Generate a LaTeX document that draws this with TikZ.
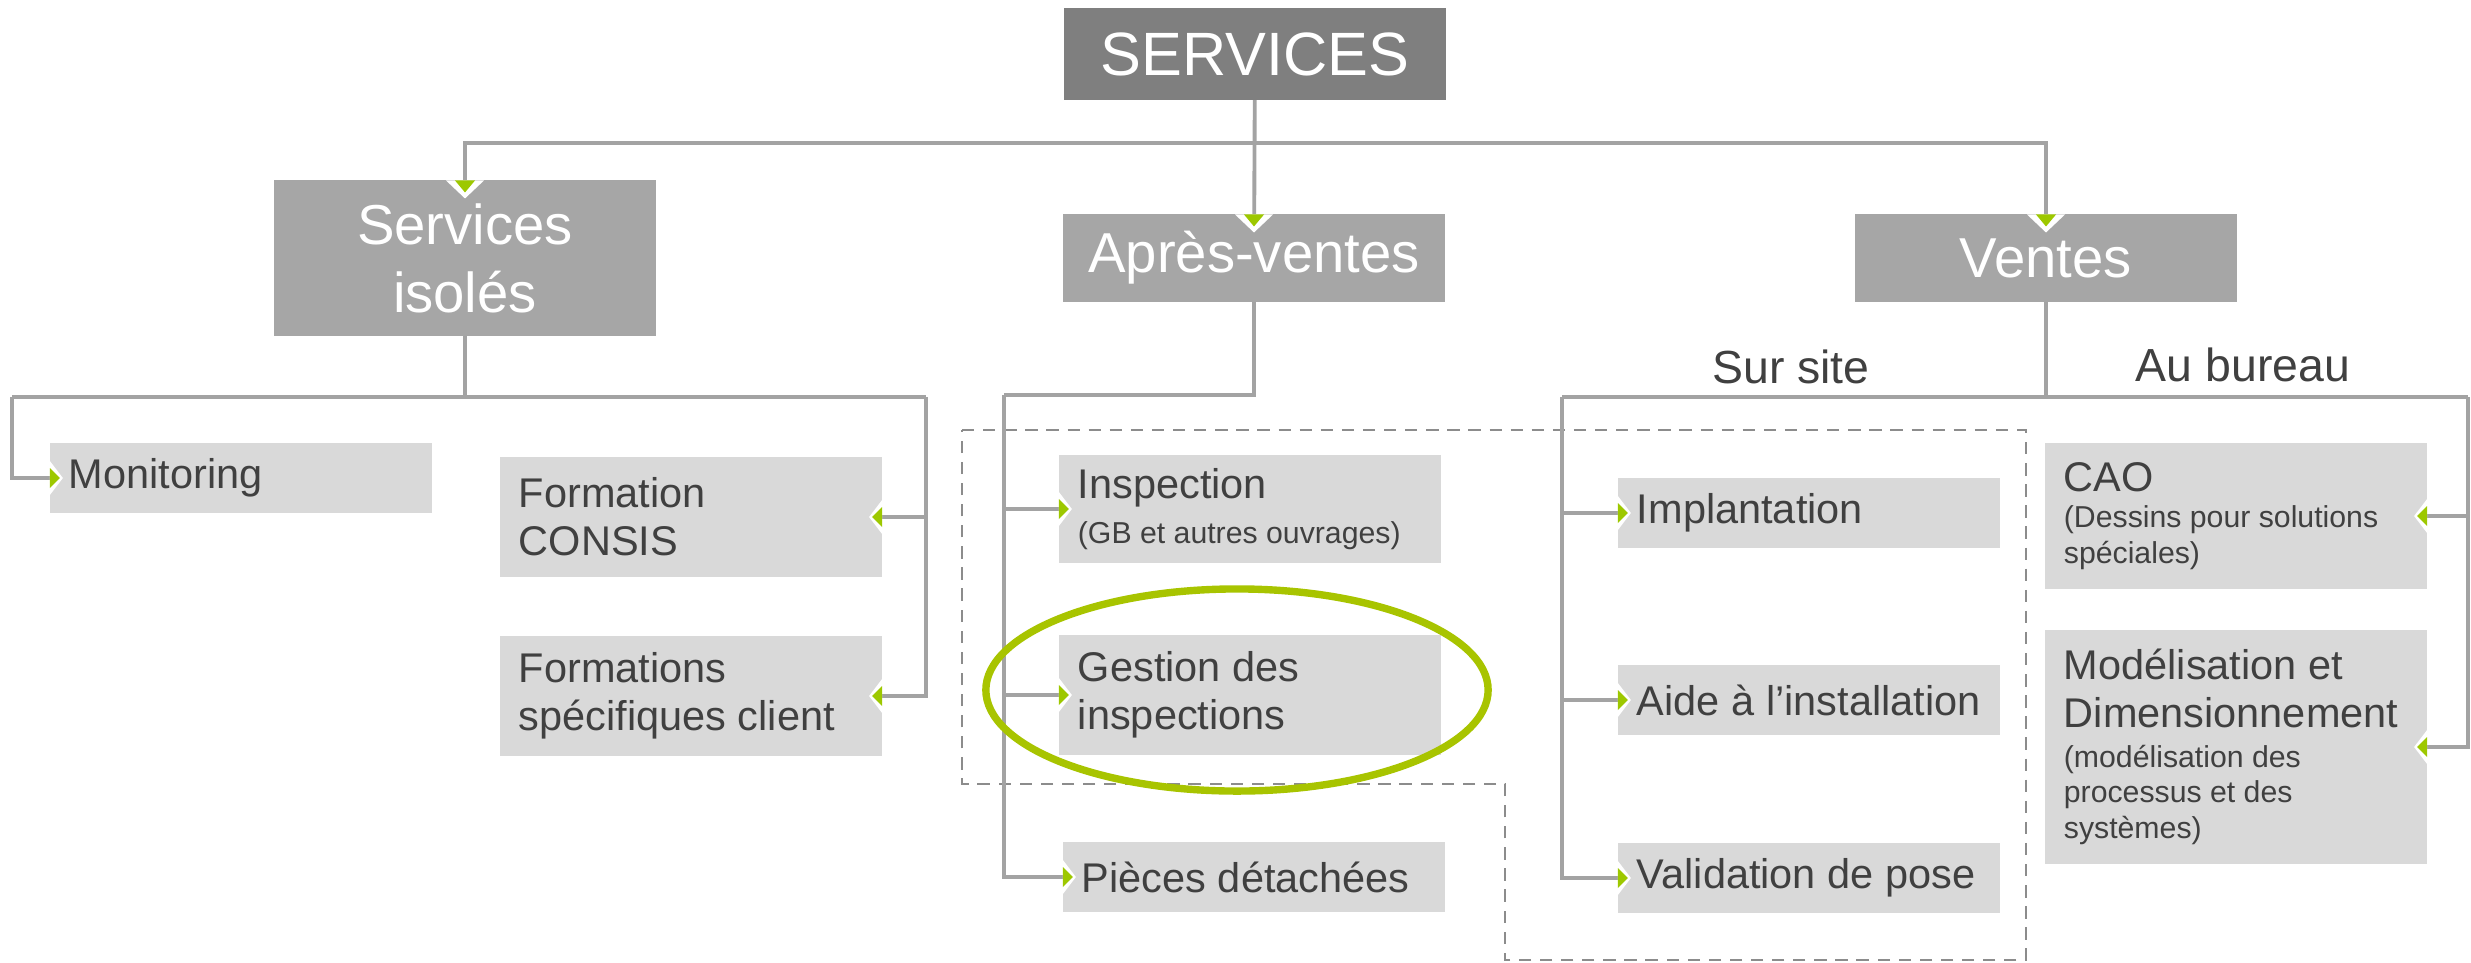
\documentclass[tikz,border=0pt]{standalone}
\usepackage{fontspec}
\setmainfont{Liberation Sans}
\usepackage{tikz}
\usepackage{xcolor}
\usetikzlibrary{positioning, calc}
\definecolor{TopGray}{HTML}{7F7F7F}
\definecolor{MidGray}{HTML}{A6A6A6}
\definecolor{LeafGray}{HTML}{D9D9D9}
\definecolor{LineGray}{HTML}{A3A3A3}
\definecolor{TextGray}{HTML}{404040}
\definecolor{DashGray}{HTML}{8C8C8C}
\definecolor{Lime}{HTML}{9DC800}
\definecolor{RingLime}{HTML}{A8C400}
\newcommand{\topfont}{\fontsize{17.4}{20}\selectfont}
\newcommand{\groupfont}{\fontsize{16}{19.4}\selectfont}
\newcommand{\leaffont}{\fontsize{11.8}{13.7}\selectfont}
\newcommand{\subfont}{\fontsize{8.6}{10.2}\selectfont}
\newcommand{\tipright}[1]{%
  \fill[white] ([yshift=0.17cm]#1.west) -- ([xshift=0.13cm]#1.west) -- ([yshift=-0.17cm]#1.west) -- cycle;
  \fill[Lime] ([yshift=0.10cm]#1.west) -- ([xshift=0.10cm]#1.west) -- ([yshift=-0.10cm]#1.west) -- cycle;}
\newcommand{\tipleft}[1]{%
  \fill[white] ([yshift=0.17cm]#1.east) -- ([xshift=-0.13cm]#1.east) -- ([yshift=-0.17cm]#1.east) -- cycle;
  \fill[Lime] ([yshift=0.10cm]#1.east) -- ([xshift=-0.10cm]#1.east) -- ([yshift=-0.10cm]#1.east) -- cycle;}
\newcommand{\tipdown}[1]{%
  \fill[white] ([xshift=-0.19cm]#1.north) -- ([yshift=-0.18cm]#1.north) -- ([xshift=0.19cm]#1.north) -- cycle;
  \fill[Lime] ([xshift=-0.10cm]#1.north) -- ([yshift=-0.12cm]#1.north) -- ([xshift=0.10cm]#1.north) -- cycle;}
\hfuzz=20pt

\begin{document}
\begin{tikzpicture}[x=0.01cm, y=-0.01cm,
    topbox/.style={fill=TopGray, text=white, font=\topfont, minimum width=3.82cm,
                   minimum height=0.92cm, inner sep=0pt, outer sep=0pt},
    groupbox/.style={fill=MidGray, text=white, font=\groupfont, align=center,
                     minimum width=3.82cm, minimum height=#1, inner sep=0pt, outer sep=0pt},
    leaf/.style={fill=LeafGray, text=TextGray, font=\leaffont, align=flush left,
                 text width=3.44cm, inner xsep=0.19cm, inner ysep=0pt,
                 minimum height=#1, outer sep=0pt},
    head/.style={text=TextGray, font=\fontsize{13.2}{15}\selectfont, inner sep=0pt, anchor=base},
    link/.style={draw=LineGray, line width=1.1pt},
    zone/.style={draw=DashGray, line width=0.5pt, dash pattern=on 3.5pt off 2.5pt}]
\useasboundingbox (0,0) rectangle (2471,963);

\draw[zone] (962,430) -- (2026,430) -- (2026,960) -- (1505,960) -- (1505,784) -- (962,784) -- cycle;

\node[topbox] (services) at (1255,54) {SERVICES};
\node[groupbox=1.55cm] (isoles) at (465,258) {Services\\isolés};
\node[groupbox=0.87cm] (apres) at (1254,258) {Après-ventes};
\node[groupbox=0.87cm] (ventes) at (2046,258) {Ventes};

\node[leaf=0.70cm] (monitoring) at (241,478) {Monitoring};
\node[leaf=1.19cm] (consis) at (691,517) {Formation\\CONSIS};
\node[leaf=1.20cm] (clientform) at (691,696) {Formations\\spécifiques~client};

\node[leaf=1.07cm] (inspection) at (1250,509) {Inspection\\[-1pt]{\subfont (GB~et~autres~ouvrages)}};
\node[leaf=1.19cm] (gestion) at (1250,695) {Gestion des\\inspections};
\node[leaf=0.70cm] (pieces) at (1254,877) {Pièces~détachées};

\node[head] (sursite) at (1791,383) {Sur site};
\node[head] (aubureau) at (2243,381) {Au bureau};
\node[leaf=0.69cm] (implantation) at (1809,513) {Implantation};
\node[leaf=0.70cm] (aide) at (1809,700) {Aide~à~l’installation};
\node[leaf=0.70cm] (validation) at (1809,878) {Validation~de~pose};
\node[leaf=1.46cm] (cao) at (2236,516) {CAO\par\subfont (Dessins~pour~solutions\\spéciales)\par};
\node[leaf=2.33cm] (modelisation) at (2236,747)
    {Modélisation et\\Dimensionnement\par\vspace{1pt}\subfont (modélisation~des\\processus~et~des\\systèmes)\par};

\coordinate (bus) at (1255,143);
\coordinate (isolesL) at (12,397);
\coordinate (isolesR) at (926,397);
\coordinate (apresL) at (1004,395);
\coordinate (ventesL) at (1562,397);
\coordinate (ventesM) at (2046,397);
\coordinate (ventesR) at (2468,397);

\draw[link] (services) -- (apres);
\draw[link] (isoles.north) |- (bus) -| (ventes.north);
\draw[link] (isoles.south) -- (isoles.south |- isolesL);
\draw[link] (isolesL) -- (isolesR);
\draw[link] (isolesL) |- (monitoring.west);
\draw[link] (isolesR) |- (consis.east);
\draw[link] (isolesR) |- (clientform.east);
\draw[link] (apres.south) |- (apresL);
\draw[link] (apresL) |- (inspection.west);
\draw[link] (apresL) |- (gestion.west);
\draw[link] (apresL) |- (pieces.west);
\draw[link] (ventes.south) -- (ventesM);
\draw[link] (ventesL) -- (ventesR);
\draw[link] (ventesL) |- (implantation.west);
\draw[link] (ventesL) |- (aide.west);
\draw[link] (ventesL) |- (validation.west);
\draw[link] (ventesR) |- (cao.east);
\draw[link] (ventesR) |- (modelisation.east);

\tipdown{isoles}
\tipdown{apres}
\tipdown{ventes}
\tipright{monitoring}
\tipleft{consis}
\tipleft{clientform}
\tipright{inspection}
\tipright{gestion}
\tipright{pieces}
\tipright{implantation}
\tipright{aide}
\tipright{validation}
\tipleft{cao}
\tipleft{modelisation}

\draw[RingLime, line width=2.1pt] (1237,690) ellipse [x radius=2.51cm, y radius=1.01cm];
\end{tikzpicture}
\end{document}
